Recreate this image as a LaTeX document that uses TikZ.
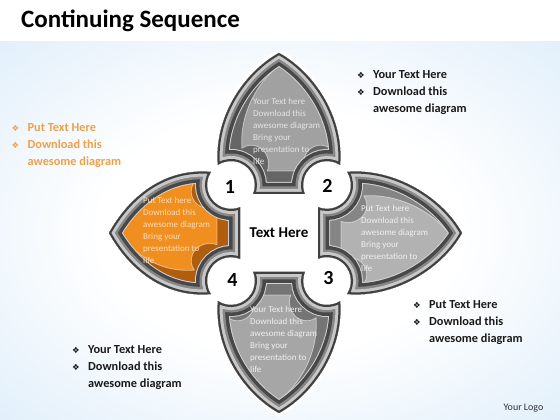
\documentclass[tikz,border=0pt]{standalone}
\usepackage{fontspec}
\setmainfont{Carlito}
\newfontfamily\dejavu{DejaVu Sans}
\definecolor{bgblue}{RGB}{204,228,247}
\definecolor{orangetxt}{RGB}{240,160,72}
\definecolor{orstrip}{RGB}{176,94,14}
\definecolor{orpanel}{RGB}{240,142,32}
\definecolor{ortext}{RGB}{250,222,186}
\definecolor{frA}{RGB}{210,210,210}
\definecolor{frB}{RGB}{72,72,72}
\definecolor{frC}{RGB}{135,135,135}
\definecolor{frD}{RGB}{200,200,200}
\definecolor{frE}{RGB}{64,64,64}
\pgfdeclareradialshading{bgshade}{\pgfpoint{0bp}{0bp}}{color(0bp)=(white); color(16bp)=(white); color(50bp)=(bgblue)}
\newcommand\shp{(39,-25.8) -- (39,25.8) arc[start angle=247.9,end angle=392.8,radius=24] .. controls (115,65) and ({\shTip-20},36) .. (\shTip,0) .. controls ({\shTip-20},-36) and (115,-65) .. (68.2,-61) arc[start angle=327.2,end angle=472.1,radius=24] -- cycle}
\newcommand\shield[4]{%
\def\shTip{#2}%
\begin{scope}[shift={(279,187)},rotate=#1]
\draw[white,line width=7,opacity=0.85] \shp;
\begin{scope}
\clip \shp;
\fill[#3] \shp;
\begin{scope}[shift={(143.6,-24.6)},xscale=0.78,yscale=0.72,shift={(-143.6,24.6)}]
\fill[#4] \shp;
\draw[white,opacity=0.5,line width=0.8] \shp;
\end{scope}
\draw[line width=24,frA] \shp;
\draw[line width=22,frB] \shp;
\draw[line width=15,frC] \shp;
\draw[line width=10,frD] \shp;
\draw[line width=4,frE] \shp;
\end{scope}
\end{scope}}
\tikzset{
  shtext/.style={anchor=north west,inner sep=0pt,align=left,font=\fontsize{9}{12}\selectfont},
  sidetext/.style={anchor=north west,inner sep=0pt,align=left,font=\bfseries\fontsize{12.3}{17}\selectfont},
  numtext/.style={inner sep=0pt,font=\bfseries\fontsize{20}{20}\selectfont},
}
\newcommand\bul{\makebox[16pt][l]{\dejavu\fontsize{8.5}{9}\selectfont ❖}}
\begin{document}
\begin{tikzpicture}[x=1pt,y=1pt]
\useasboundingbox (0,0) rectangle (560,420);
\fill[white] (0,378) rectangle (560,420);
\shade[shading=bgshade] (0,0) rectangle (560,378);
\node[anchor=base west,inner sep=0pt,font=\bfseries\fontsize{25}{25}\selectfont] (title) at (21,392) {Continuing Sequence};
% shields
\shield{90}{180}{black!60}{black!37}
\shield{0}{183}{black!48}{black!30}
\shield{-90}{180}{black!54}{black!35}
\shield{180}{170}{orstrip}{orpanel}
% shield texts
\node[shtext,text=black!10] (t1) at (253,321.5) {Your Text here\\Download this\\awesome diagram\\Bring your\\presentation to\\life};
\node[shtext,text=ortext] (t4) at (143,223) {Put Text here\\Download this\\awesome diagram\\Bring your\\presentation to\\life};
\node[shtext,text=black!6] (t2) at (361,214.5) {Put Text here\\Download this\\awesome diagram\\Bring your\\presentation to\\life};
\node[shtext,text=black!6] (t3) at (250,113.5) {Your Text here\\Download this\\awesome diagram\\Bring your\\presentation to\\life};
% numbers
\node[numtext] (n1) at (230,233.3) {1};
\node[numtext] (n2) at (327.5,234.5) {2};
\node[numtext] (n3) at (328.5,141.7) {3};
\node[numtext] (n4) at (232.5,139.5) {4};
\node[inner sep=0pt,font=\bfseries\fontsize{15}{15}\selectfont] (center) at (279,187) {Text Here};
% side texts
\node[sidetext,text=black!90] (s1) at (357,349.3) {\bul Your Text Here\\\bul Download this\\\hspace*{16pt}awesome diagram};
\node[sidetext,text=orangetxt] (s2) at (11.5,296.3) {\bul Put Text Here\\\bul Download this\\\hspace*{16pt}awesome diagram};
\node[sidetext,text=black!90] (s3) at (413,119.3) {\bul Put Text Here\\\bul Download this\\\hspace*{16pt}awesome diagram};
\node[sidetext,text=black!90] (s4) at (72,74.3) {\bul Your Text Here\\\bul Download this\\\hspace*{16pt}awesome diagram};
\node[inner sep=0pt,font=\fontsize{10}{10}\selectfont,text=black!80] (logo) at (523.5,12) {Your Logo};
\end{tikzpicture}
\end{document}
